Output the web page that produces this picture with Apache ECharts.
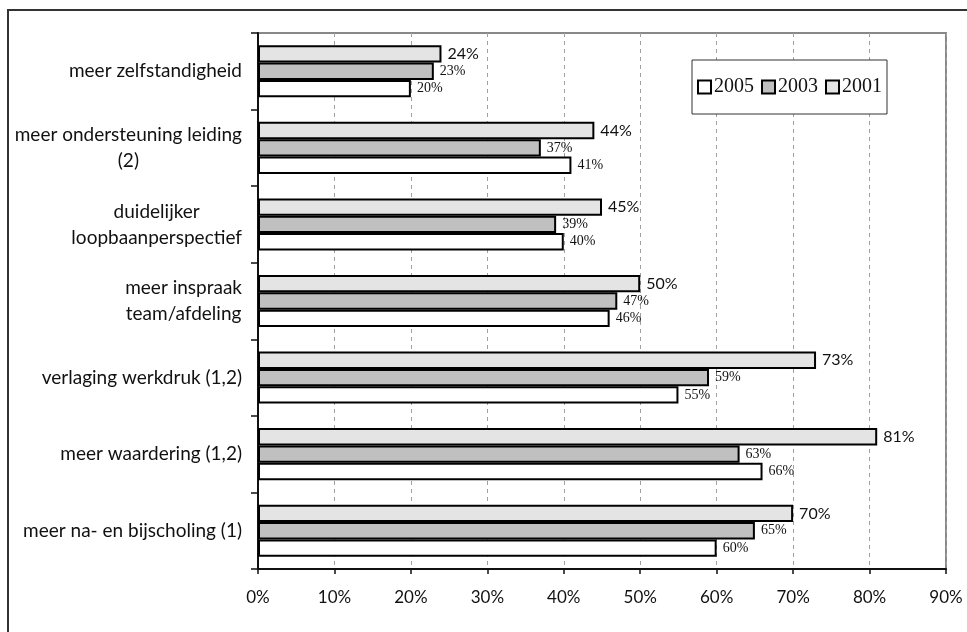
<!DOCTYPE html>
<html>
<head>
<meta charset="utf-8">
<script src="https://cdn.jsdelivr.net/npm/echarts@6/dist/echarts.min.js"></script>
<style>
  html, body { margin: 0; padding: 0; background: #fff; }
  #chart { width: 967px; height: 632px; }
</style>
</head>
<body>
<div id="chart"></div>
<script>
// Categories listed top to bottom as they appear on the chart
const categories = [
  'meer zelfstandigheid',
  'meer ondersteuning leiding\n(2)',
  'duidelijker\nloopbaanperspectief',
  'meer inspraak\nteam/afdeling',
  'verlaging werkdruk (1,2)',
  'meer waardering (1,2)',
  'meer na- en bijscholing (1)'
];
const years = ['2005', '2003', '2001'];
const values2005 = [20, 41, 40, 46, 55, 66, 60];
const values2003 = [23, 37, 39, 47, 59, 63, 65];
const values2001 = [24, 44, 45, 50, 73, 81, 70];
const xMin = 0, xMax = 90, xStep = 10;

// Category axis runs bottom-up, so reverse to keep the first entry on top
const rev = a => a.slice().reverse();

const sansFont = 'Lato, "Open Sans", sans-serif';
const serifFont = '"Liberation Serif", "DejaVu Serif", serif';

function barSeries(name, data, fill, labelFont, labelSize) {
  return {
    name: name,
    type: 'bar',
    data: rev(data),
    barGap: '0%',
    barCategoryGap: '32%',
    itemStyle: { color: fill, borderColor: '#000', borderWidth: 2 },
    emphasis: { disabled: true },
    label: {
      show: true,
      position: 'right',
      distance: 6,
      formatter: '{c}%',
      fontFamily: labelFont,
      fontSize: labelSize,
      color: '#111'
    }
  };
}

const chart = echarts.init(document.getElementById('chart'), null, { renderer: 'canvas' });
chart.setOption({
  animation: false,
  backgroundColor: '#fff',
  graphic: [{
    type: 'rect',
    silent: true,
    shape: { x: 8, y: 10, width: 1100, height: 800 },
    style: { fill: null, stroke: '#333', lineWidth: 2 }
  }],
  grid: {
    left: 258, right: 21, top: 33, bottom: 63,
    show: true, borderColor: '#888', borderWidth: 2, backgroundColor: 'transparent'
  },
  legend: {
    data: years,
    left: 692, top: 60,
    orient: 'horizontal',
    padding: [17, 5, 17, 5],
    itemGap: 7,
    itemWidth: 13, itemHeight: 13,
    icon: 'rect',
    backgroundColor: '#fff',
    borderColor: '#333', borderWidth: 1,
    itemStyle: { borderColor: '#000', borderWidth: 2 },
    textStyle: { fontFamily: serifFont, fontSize: 20, color: '#111', padding: [0, 0, 0, -2] },
    selectedMode: false
  },
  xAxis: {
    type: 'value',
    min: xMin, max: xMax, interval: xStep,
    axisLine: { show: true, lineStyle: { color: '#111', width: 2 } },
    axisTick: { show: true, length: 5, lineStyle: { color: '#111', width: 1.5 } },
    axisLabel: {
      formatter: '{value}%',
      margin: 20,
      fontFamily: sansFont, fontSize: 17, color: '#111'
    },
    splitLine: { show: true, lineStyle: { color: '#a0a0a0', type: [4, 4], width: 1 } }
  },
  yAxis: {
    type: 'category',
    data: rev(categories),
    axisLine: { show: true, lineStyle: { color: '#111', width: 2 } },
    axisTick: { show: true, length: 7, lineStyle: { color: '#111', width: 1.5 } },
    axisLabel: {
      margin: 16,
      color: '#111',
      formatter: v => v.split('\n').map(s => '{c|' + s + '}').join('\n'),
      rich: {
        c: { align: 'center', fontFamily: sansFont, fontSize: 19, lineHeight: 26, color: '#111' }
      }
    },
    splitLine: { show: false }
  },
  // Drawn top-down within each group: 2001, 2003, 2005
  series: [
    barSeries('2001', values2001, '#e4e4e4', sansFont, 16),
    barSeries('2003', values2003, '#c0c0c0', serifFont, 14),
    barSeries('2005', values2005, '#ffffff', serifFont, 14)
  ]
});
</script>
</body>
</html>
